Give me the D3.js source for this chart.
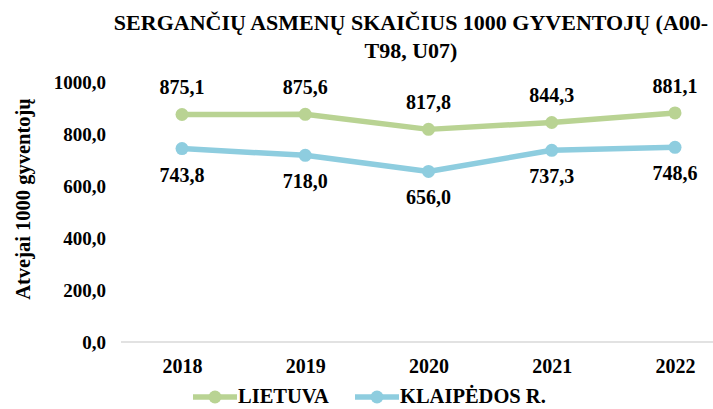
<!DOCTYPE html>
<html>
<head>
<meta charset="utf-8">
<script src="https://cdn.jsdelivr.net/npm/d3@7"></script>
<style>
  body { margin: 0; background: #fff; }
</style>
</head>
<body>
<div id="chart"></div>
<script>
var years = ["2018", "2019", "2020", "2021", "2022"];
var lietuva = [875.1, 875.6, 817.8, 844.3, 881.1];
var klaipedos = [743.8, 718.0, 656.0, 737.3, 748.6];
var seriesNames = ["LIETUVA", "KLAIPĖDOS R."];
var yTicks = [0, 200, 400, 600, 800, 1000];

var width = 713, height = 409;
var green = "#b9d393", blue = "#8ecddf";
var font = "'Liberation Serif', 'Times New Roman', Times, serif";

var svg = d3.select("#chart").append("svg").attr("width", width).attr("height", height)
    .style("font-family", font).style("font-weight", "bold");

var x = d3.scalePoint().domain(years).range([182, 675]);
var y = d3.scaleLinear().domain([0, 1000]).range([342, 82]);

var fmt = function(v) { return d3.format(".1f")(v).replace(".", ","); };

// title
var title = svg.append("text").attr("text-anchor", "middle").style("font-size", "22px");
title.append("tspan").attr("x", 411).attr("y", 30).text("SERGANČIŲ ASMENŲ SKAIČIUS 1000 GYVENTOJŲ (A00-");
title.append("tspan").attr("x", 411).attr("y", 58).text("T98, U07)");

// y axis (labels only)
var yAxis = svg.append("g").attr("transform", "translate(106,0)")
    .call(d3.axisLeft(y).tickValues(yTicks).tickFormat(fmt).tickSize(0).tickPadding(0));
yAxis.attr("font-family", null).attr("font-size", null);
yAxis.select(".domain").remove();
yAxis.selectAll("text").style("font-size", "19px").attr("fill", "#000");

svg.append("text").attr("text-anchor", "middle").style("font-size", "20.5px")
    .attr("transform", "translate(30,199) rotate(-90)").text("Atvejai 1000 gyventojų");

// baseline
svg.append("line").attr("x1", 121).attr("x2", 737).attr("y1", y(0)).attr("y2", y(0))
    .attr("stroke", "#d9d9d9").attr("stroke-width", 1.5);

var xAxis = svg.append("g").attr("transform", "translate(0," + y(0) + ")")
    .call(d3.axisBottom(x).tickSize(0).tickPadding(17));
xAxis.attr("font-family", null).attr("font-size", null);
xAxis.select(".domain").remove();
xAxis.selectAll("text").style("font-size", "20px").attr("fill", "#000");

var line = d3.line().x(function(d, i) { return x(years[i]); }).y(function(d) { return y(d); });

function drawSeries(vals, color, dy) {
    svg.append("path").datum(vals).attr("d", line).attr("fill", "none")
        .attr("stroke", color).attr("stroke-width", 5.5).attr("stroke-linejoin", "round");
    svg.selectAll(null).data(vals).enter().append("circle")
        .attr("cx", function(d, i) { return x(years[i]); }).attr("cy", function(d) { return y(d); })
        .attr("r", 6.5).attr("fill", color);
    svg.selectAll(null).data(vals).enter().append("text")
        .attr("x", function(d, i) { return x(years[i]); }).attr("y", function(d) { return y(d) + dy; })
        .attr("text-anchor", "middle").style("font-size", "20px").text(fmt);
}
drawSeries(lietuva, green, -20);
drawSeries(klaipedos, blue, 33);

// legend
var legend = [{name: seriesNames[0], color: green, x: 193}, {name: seriesNames[1], color: blue, x: 355}];
var lg = svg.selectAll(null).data(legend).enter().append("g")
    .attr("transform", function(d) { return "translate(" + d.x + ",397)"; });
lg.append("line").attr("x1", 0).attr("x2", 44).attr("stroke", function(d) { return d.color; }).attr("stroke-width", 5.5);
lg.append("circle").attr("cx", 22).attr("r", 6.5).attr("fill", function(d) { return d.color; });
lg.append("text").attr("x", 45).attr("y", 6).style("font-size", "20.5px").text(function(d) { return d.name; });
</script>
</body>
</html>
